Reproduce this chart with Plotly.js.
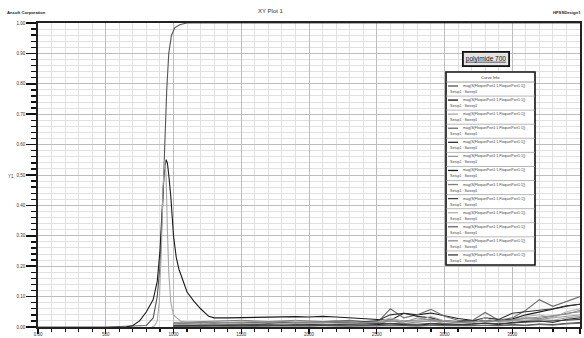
<!DOCTYPE html>
<html>
<head>
<meta charset="utf-8">
<script src="https://cdn.plot.ly/plotly-3.0.1.min.js"></script>
<style>html,body{margin:0;padding:0;background:#fff;}#chart{width:584px;height:338px;}</style>
</head>
<body>
<div id="chart"></div>
<script>
// ---------- DATA ----------
const xTickVals = [0, 500, 1000, 1500, 2000, 2500, 3000, 3500, 4000];
const xTickText = ["0.00", "500", "1000", "1500", "2000", "2500", "3000", "3500", "4000"];
const yTickVals = [0, 0.1, 0.2, 0.3, 0.4, 0.5, 0.6, 0.7, 0.8, 0.9, 1.0];
const yTickText = ["0.00", "0.10", "0.20", "0.30", "0.40", "0.50", "0.60", "0.70", "0.80", "0.90", "1.00"];

const curveName = "mag(S(FloquetPort1:1,FloquetPort1:1))";
const setupName = "Setup1 : Sweep1";
const annotationLabel = "polyimide 700";
const legendTitle = "Curve Info";
const plotTitle = "XY Plot 1";
const companyText = "Ansoft Corporation";
const designText = "HFSSDesign1";
const yAxisLabel = "Y1";

// transmission-like curve (rises to 1)
const x1 = [0, 500, 800, 850, 880, 900, 920, 935, 950, 965, 985, 1010, 1050, 1100, 1500, 2000, 2500, 3000, 3500, 4000];
const y1 = [0, 0, 0.005, 0.03, 0.1, 0.2, 0.4, 0.6, 0.78, 0.9, 0.96, 0.985, 0.995, 1, 1, 1, 1, 1, 1, 1];

// resonance peak curve
const x2 = [650, 700, 750, 800, 850, 880, 900, 915, 930, 945, 955, 965, 980, 1000, 1020, 1040, 1070, 1100, 1150, 1200, 1260,
            1300, 1400, 1500, 1600, 1700, 1800, 1900, 2000, 2100, 2200, 2300, 2400, 2500, 2600, 2700, 2800, 2900, 3000,
            3100, 3200, 3300, 3400, 3500, 3600, 3700, 3800, 3900, 4000];
const y2 = [0, 0.005, 0.02, 0.05, 0.09, 0.15, 0.25, 0.4, 0.5, 0.55, 0.54, 0.5, 0.43, 0.3, 0.23, 0.19, 0.15, 0.115, 0.085, 0.06, 0.035,
            0.03, 0.03, 0.031, 0.032, 0.034, 0.033, 0.034, 0.033, 0.035, 0.033, 0.03, 0.027, 0.025, 0.022, 0.045, 0.04, 0.046, 0.036,
            0.028, 0.022, 0.02, 0.022, 0.026, 0.04, 0.05, 0.06, 0.068, 0.075];

// narrow light spike
const x3 = [840, 860, 880, 895, 910, 922, 935, 945, 955, 965, 980, 1000, 1050, 1100, 1200, 1300, 1400, 1500, 1600, 1700, 1800, 1900, 2000,
            2100, 2200, 2300, 2400, 2500, 2600, 2700, 2800, 2900, 3000, 3100, 3200, 3300, 3400, 3500, 3600, 3700, 3800, 3900, 4000];
const y3 = [0, 0.004, 0.02, 0.08, 0.25, 0.45, 0.55, 0.5, 0.32, 0.18, 0.08, 0.04, 0.02, 0.015, 0.014, 0.016, 0.015, 0.017, 0.016, 0.015, 0.017, 0.016, 0.018,
            0.017, 0.016, 0.015, 0.016, 0.018, 0.02, 0.018, 0.017, 0.02, 0.018, 0.016, 0.017, 0.02, 0.018, 0.02, 0.022, 0.025, 0.022, 0.03, 0.035];

// shared frequency grid of the low-level curves
const xn = [1000, 1100, 1200, 1300, 1400, 1500, 1600, 1700, 1800, 1900, 2000, 2100, 2200, 2300, 2400, 2500,
            2600, 2700, 2800, 2900, 3000, 3100, 3200, 3300, 3400, 3500, 3600, 3700, 3800, 3900, 4000];
const y4 = [0.01, 0.012, 0.015, 0.012, 0.01, 0.012, 0.015, 0.012, 0.014, 0.012, 0.015, 0.018, 0.02, 0.022, 0.018, 0.012,
            0.06, 0.03, 0.04, 0.058, 0.035, 0.022, 0.02, 0.048, 0.022, 0.03, 0.055, 0.09, 0.068, 0.085, 0.1];
const y5 = [0.008, 0.01, 0.012, 0.011, 0.012, 0.013, 0.012, 0.014, 0.013, 0.012, 0.015, 0.014, 0.016, 0.015, 0.017, 0.02,
            0.04, 0.045, 0.035, 0.03, 0.02, 0.018, 0.02, 0.03, 0.025, 0.045, 0.05, 0.055, 0.06, 0.07, 0.075];
const y6 = [0.005, 0.006, 0.008, 0.01, 0.01, 0.012, 0.01, 0.008, 0.01, 0.012, 0.01, 0.008, 0.01, 0.012, 0.015, 0.01,
            0.02, 0.012, 0.015, 0.02, 0.012, 0.01, 0.008, 0.015, 0.01, 0.012, 0.02, 0.025, 0.03, 0.035, 0.04];
const y7 = [0.002, 0.003, 0.004, 0.005, 0.004, 0.006, 0.005, 0.004, 0.006, 0.005, 0.008, 0.006, 0.005, 0.007, 0.006, 0.008,
            0.01, 0.008, 0.006, 0.01, 0.008, 0.006, 0.01, 0.012, 0.008, 0.015, 0.018, 0.02, 0.015, 0.025, 0.03];
const y8 = [0.015, 0.016, 0.018, 0.02, 0.02, 0.022, 0.02, 0.018, 0.02, 0.022, 0.02, 0.018, 0.02, 0.018, 0.015, 0.018,
            0.025, 0.02, 0.022, 0.025, 0.02, 0.015, 0.018, 0.02, 0.018, 0.025, 0.03, 0.028, 0.035, 0.045, 0.05];
const y9 = [0.003, 0.002, 0.003, 0.004, 0.003, 0.004, 0.003, 0.005, 0.004, 0.003, 0.004, 0.005, 0.004, 0.003, 0.005, 0.004,
            0.006, 0.005, 0.004, 0.006, 0.005, 0.004, 0.005, 0.006, 0.005, 0.008, 0.006, 0.01, 0.008, 0.012, 0.015];
const y10 = [0.008, 0.01, 0.012, 0.01, 0.012, 0.01, 0.012, 0.014, 0.012, 0.01, 0.012, 0.014, 0.012, 0.01, 0.012, 0.015,
             0.03, 0.018, 0.02, 0.035, 0.02, 0.015, 0.012, 0.03, 0.015, 0.02, 0.035, 0.04, 0.03, 0.05, 0.06];
const y11 = [0.001, 0.002, 0.002, 0.003, 0.002, 0.003, 0.002, 0.003, 0.003, 0.002, 0.003, 0.004, 0.003, 0.002, 0.003, 0.004,
             0.005, 0.004, 0.003, 0.005, 0.004, 0.003, 0.004, 0.005, 0.004, 0.006, 0.005, 0.008, 0.006, 0.01, 0.012];
const y12 = [0.012, 0.013, 0.015, 0.014, 0.016, 0.015, 0.017, 0.016, 0.018, 0.016, 0.015, 0.014, 0.016, 0.015, 0.013, 0.014,
             0.02, 0.016, 0.03, 0.022, 0.018, 0.014, 0.016, 0.018, 0.02, 0.022, 0.028, 0.032, 0.038, 0.042, 0.055];
const y13 = [0.004, 0.005, 0.006, 0.007, 0.006, 0.007, 0.008, 0.007, 0.006, 0.008, 0.007, 0.006, 0.008, 0.009, 0.008, 0.01,
             0.012, 0.01, 0.009, 0.012, 0.01, 0.008, 0.01, 0.012, 0.011, 0.014, 0.016, 0.018, 0.02, 0.022, 0.025];

const seriesX = [x1, x2, x3, xn, xn, xn, xn, xn, xn, xn, xn, xn, xn];
const seriesY = [y1, y2, y3, y4, y5, y6, y7, y8, y9, y10, y11, y12, y13];

// ---------- STYLE ----------
const colors = ['#555', '#1a1a1a', '#a8a8a8', '#6e6e6e', '#333', '#999', '#222', '#808080', '#444', '#b0b0b0', '#666', '#8c8c8c', '#3a3a3a'];
const widths = [1.1, 1.1, 1.1, 1.1, 1.1, 1, 1, 1, 1, 1, 1, 1, 1];
const FONT = 'Liberation Sans, Arial, sans-serif';

// plot area in pixels
const L = 38, R = 580, T = 23, B = 327, W = 584, H = 338;
const px = x => (x - L) / (R - L);
const py = y => (B - y) / (B - T);

const traces = seriesX.map((xs, i) => ({
  type: 'scatter', mode: 'lines', x: xs, y: seriesY[i],
  line: {color: colors[i], width: widths[i]},
  showlegend: false, hoverinfo: 'skip'
}));

const shapes = [];
const annotations = [];

// manual legend ("Curve Info")
const lgX0 = 446, lgX1 = 535, lgY0 = 72, lgHead = 82, lgY1 = 265;
const n = seriesX.length;
const rowH = (lgY1 - lgHead) / n;
shapes.push({type: 'rect', xref: 'paper', yref: 'paper', x0: px(lgX0), x1: px(lgX1), y0: py(lgY1), y1: py(lgY0),
  line: {color: '#111', width: 1.6}, fillcolor: '#fff', layer: 'above'});
shapes.push({type: 'line', xref: 'paper', yref: 'paper', x0: px(lgX0), x1: px(lgX1), y0: py(lgHead), y1: py(lgHead),
  line: {color: '#888', width: 0.8}, layer: 'above'});
annotations.push({xref: 'paper', yref: 'paper', x: px((lgX0 + lgX1) / 2), y: py(77), text: legendTitle, showarrow: false,
  font: {family: FONT, size: 4, color: '#333'}, xanchor: 'center', yanchor: 'middle'});
for (let i = 0; i < n; i++) {
  const top = lgHead + i * rowH;
  shapes.push({type: 'line', xref: 'paper', yref: 'paper', x0: px(448), x1: px(458), y0: py(top + 4), y1: py(top + 4),
    line: {color: colors[i], width: 1.3}, layer: 'above'});
  annotations.push({xref: 'paper', yref: 'paper', x: px(461), y: py(top + 4), text: curveName, showarrow: false,
    font: {family: FONT, size: 3.6, color: '#444'}, xanchor: 'left', yanchor: 'middle'});
  annotations.push({xref: 'paper', yref: 'paper', x: px(448), y: py(top + 10), text: setupName, showarrow: false,
    font: {family: FONT, size: 3.6, color: '#444'}, xanchor: 'left', yanchor: 'middle'});
  if (i < n - 1) {
    shapes.push({type: 'line', xref: 'paper', yref: 'paper', x0: px(lgX0), x1: px(lgX1), y0: py(top + rowH), y1: py(top + rowH),
      line: {color: '#999', width: 0.7}, layer: 'above'});
  }
}

// label box
annotations.push({xref: 'paper', yref: 'paper', x: px(485.5), y: py(59.5), text: '<u>' + annotationLabel + '</u>', showarrow: false,
  font: {family: FONT, size: 6.5, color: '#111'}, bgcolor: '#e4e4e4', bordercolor: '#111', borderwidth: 1.8, borderpad: 2,
  xanchor: 'center', yanchor: 'middle'});

// header texts
annotations.push({xref: 'paper', yref: 'paper', x: px(271), y: py(11), text: plotTitle, showarrow: false,
  font: {family: FONT, size: 6, color: '#333'}, xanchor: 'center', yanchor: 'middle'});
annotations.push({xref: 'paper', yref: 'paper', x: px(5), y: py(12), text: '<b>' + companyText + '</b>', showarrow: false,
  font: {family: FONT, size: 4.2, color: '#222'}, xanchor: 'left', yanchor: 'middle'});
annotations.push({xref: 'paper', yref: 'paper', x: px(583), y: py(12), text: '<b>' + designText + '</b>', showarrow: false,
  font: {family: FONT, size: 4.2, color: '#222'}, xanchor: 'right', yanchor: 'middle'});
annotations.push({xref: 'paper', yref: 'paper', x: px(11), y: py(176), text: yAxisLabel, showarrow: false,
  font: {family: FONT, size: 4.5, color: '#444'}, xanchor: 'center', yanchor: 'middle'});

const layout = {
  width: W, height: H,
  margin: {l: L, r: W - R, t: T, b: H - B, pad: 0},
  paper_bgcolor: '#fff', plot_bgcolor: '#fff',
  showlegend: false,
  font: {family: FONT, size: 5, color: '#333'},
  xaxis: {
    range: [0, 4000], tickmode: 'array', tickvals: xTickVals, ticktext: xTickText,
    ticks: 'outside', ticklen: 5, tickwidth: 1.4, tickcolor: '#111',
    ticklabelstandoff: -3,
    tickfont: {family: FONT, size: 4.5, color: '#333'},
    showgrid: true, gridcolor: '#bdbdbd', gridwidth: 1,
    minor: {dtick: 100, ticks: 'outside', ticklen: 3, tickwidth: 1.2, tickcolor: '#111', showgrid: true, gridcolor: '#e0e0e0', gridwidth: 1},
    showline: true, linecolor: '#222', linewidth: 1.8, mirror: true, zeroline: false
  },
  yaxis: {
    range: [0, 1], tickmode: 'array', tickvals: yTickVals, ticktext: yTickText,
    ticks: 'outside', ticklen: 10, tickwidth: 1.6, tickcolor: '#111',
    tickfont: {family: FONT, size: 4.5, color: '#333'},
    showgrid: true, gridcolor: '#bdbdbd', gridwidth: 1,
    minor: {dtick: 0.02, ticks: 'outside', ticklen: 5, tickwidth: 1.4, tickcolor: '#111', showgrid: true, gridcolor: '#e0e0e0', gridwidth: 1},
    showline: true, linecolor: '#222', linewidth: 1.8, mirror: true, zeroline: false
  },
  shapes: shapes,
  annotations: annotations
};

Plotly.newPlot('chart', traces, layout, {displayModeBar: false, staticPlot: true});
</script>
</body>
</html>
